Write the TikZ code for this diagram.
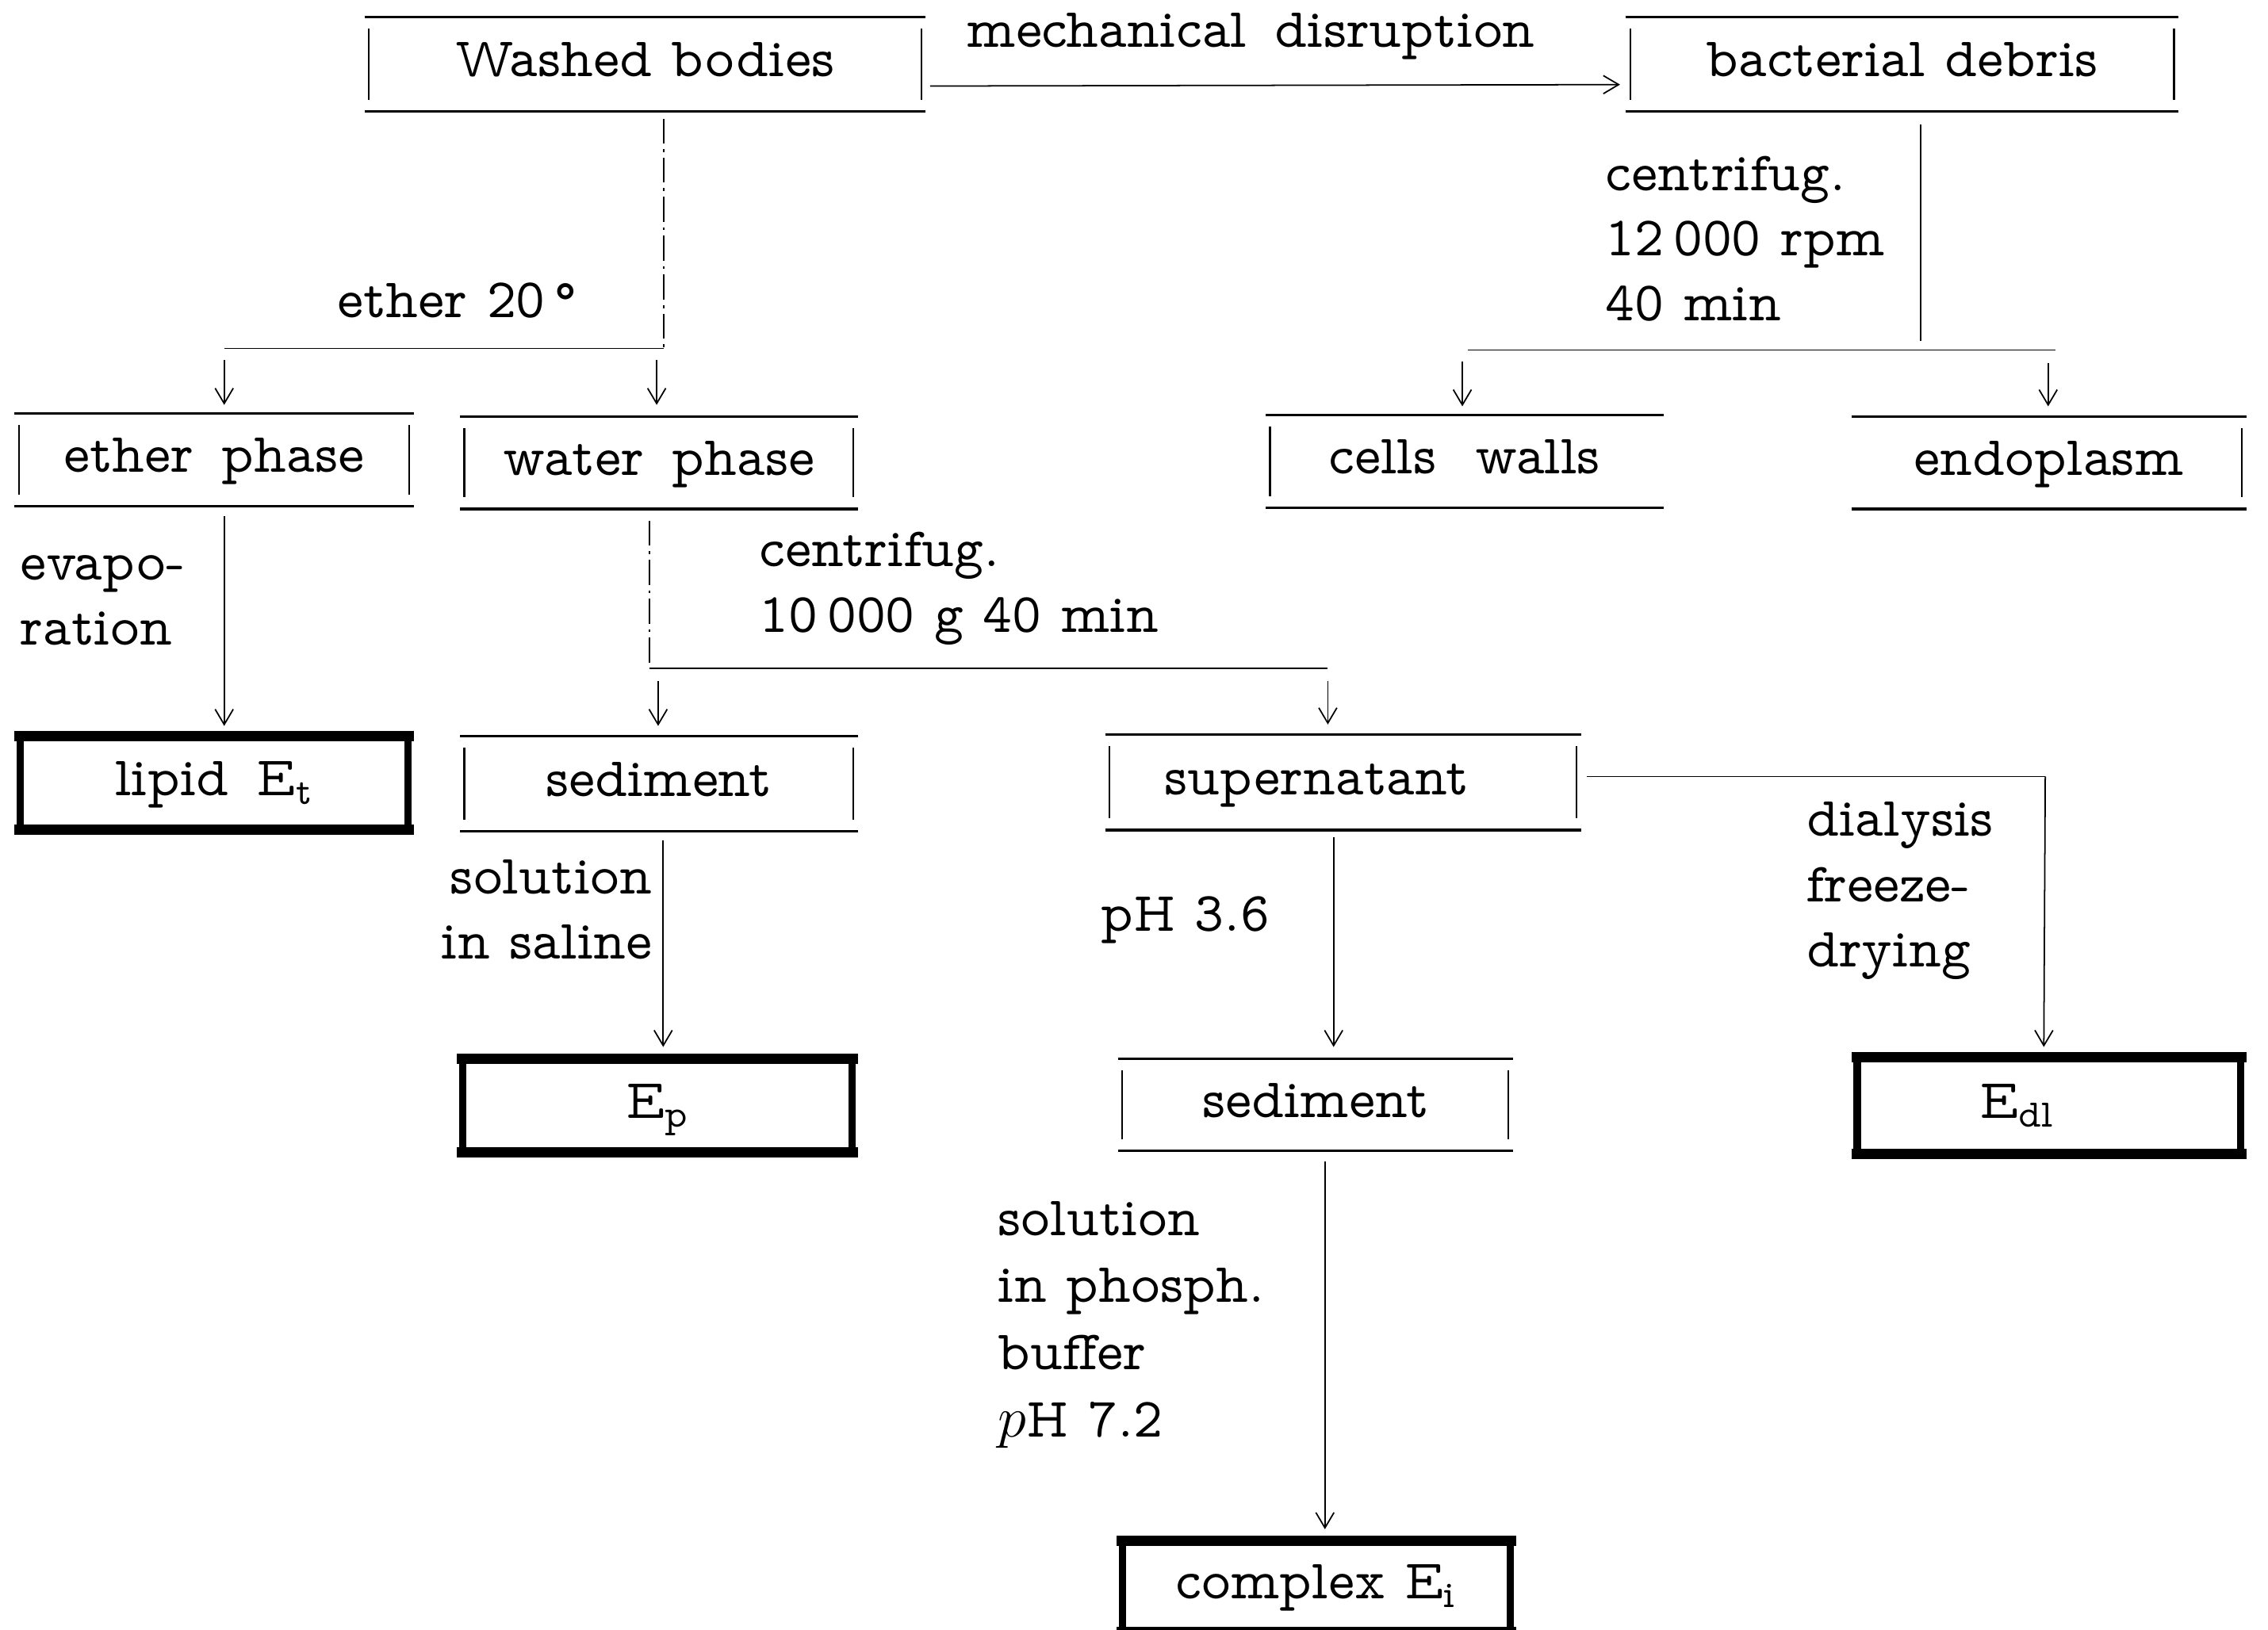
\documentclass[tikz,border=0pt]{standalone}
\usepackage{fontspec}
\setmainfont{lmmonoprop10-regular.otf}
\usetikzlibrary{arrows.meta,calc}
\newcommand\nbox[1]{\draw[hline] (#1.north west) -- (#1.north east) (#1.south west) -- (#1.south east);}
\newcommand\nlbar[1]{\draw[vbar] ([shift={(3,8)}]#1.north west) -- ([shift={(3,-8)}]#1.south west);}
\newcommand\nrbar[1]{\draw[vbar] ([shift={(-3,8)}]#1.north east) -- ([shift={(-3,-8)}]#1.south east);}
\newcommand\bbox[1]{\draw[bhline] (#1.north west) -- (#1.north east) (#1.south west) -- (#1.south east);
  \draw[bvbar] ([shift={(4,2)}]#1.north west) -- ([shift={(4,-2)}]#1.south west)
               ([shift={(-4,2)}]#1.north east) -- ([shift={(-4,-2)}]#1.south east);}
\newcommand\wsp{\ \hspace{3pt}}
\begin{document}
\begin{tikzpicture}[x=0.01824cm,y=-0.01824cm,
  every node/.style={font=\fontsize{20}{23.35}\selectfont, inner sep=0pt, outer sep=0pt},
  bx/.style 2 args={inner sep=0pt, minimum width=#1*0.01824cm, minimum height=#2*0.01824cm,
     text height=0.9em, text depth=0pt},
  lbl/.style={align=left, anchor=west},
  hline/.style={line width=0.9pt},
  vbar/.style={line width=0.6pt},
  bhline/.style={line width=3.7pt},
  bvbar/.style={line width=2.7pt},
  conn/.style={line width=0.5pt},
  dconn/.style={line width=0.45pt, dash pattern=on 9pt off 2pt on 1pt off 2pt},
  arr/.style={conn, -{Straight Barb[length=5.5pt,width=6.5pt]}}]
\useasboundingbox (0,0) rectangle (1568,1127);

% boxes
\node[bx={388}{65}] (washed) at (446,44.5) {Washed bodies};
\node[bx={382}{65}] (debris) at (1315,44.5) {bacterial debris};
\node[bx={276}{64}] (ether) at (148,318) {ether\wsp phase};
\node[bx={275}{64}] (water) at (455.5,320) {water\wsp phase};
\node[bx={275}{64}] (cells) at (1012.5,319) {cells\ \ walls};
\node[bx={273}{64}] (endo) at (1416.5,320) {endoplasm};
\node[bx={276}{65}] (lipid) at (148,541.5) {lipid\wsp E\textsubscript{t}};
\node[bx={275}{66}] (sed1) at (455.5,542) {sediment};
\node[bx={329}{66}] (super) at (928.5,541) {supernatant\rule{0.66cm}{0pt}};
\node[bx={277}{65}] (ep) at (454.5,764.5) {E\textsubscript{p}};
\node[bx={273}{64}] (sed2) at (909.5,764) {sediment};
\node[bx={273}{67}] (edl) at (1416.5,764.5) {E\textsubscript{dl}\rule{0.8cm}{0pt}};
\node[bx={276}{63}] (cplx) at (910,1097) {complex E\textsubscript{i}};

\nbox{washed}\nlbar{washed}\nrbar{washed}
\nbox{debris}\nlbar{debris}\nrbar{debris}
\nbox{ether}\nlbar{ether}\nrbar{ether}
\nbox{water}\nlbar{water}\nrbar{water}
\nbox{cells}\nlbar{cells}
\nbox{endo}\nrbar{endo}
\nbox{sed1}\nlbar{sed1}\nrbar{sed1}
\nbox{super}\nlbar{super}\nrbar{super}
\nbox{sed2}\nlbar{sed2}\nrbar{sed2}
\bbox{lipid}\bbox{ep}\bbox{edl}\bbox{cplx}

% labels
\node (mech) at (865,25) {mechanical\wsp disruption};
\node (eth20) at (316,208) {ether 20\,\textdegree};
\node[lbl] (cent1) at (1110,165) {centrifug.\\12\,000 rpm\\40 min};
\node[lbl] (evap) at (14,415) {evapo-\\ration};
\node[lbl] (cent2) at (525,407) {centrifug.\\10\,000 g 40 min};
\node[align=right, anchor=east] (sal) at (451,629) {solution\\in saline};
\node[lbl] (ph36) at (761,636) {pH 3.6};
\node[lbl] (dial) at (1249,616) {dialysis\\freeze-\\drying};
\node[lbl, font=\fontsize{20}{24.1}\selectfont] (phos) at (690,916) {solution\\in phosph.\\buffer\\$p$H 7.2};

% junction coordinates
\coordinate (j1) at (459,241);
\coordinate (j1l) at (155,241);
\coordinate (j2) at (449,462);
\coordinate (j2r) at (918,462);
\coordinate (j3) at (1328,242);
\coordinate (j3l) at (1015,242);
\coordinate (j3r) at (1421,242);
\coordinate (j4) at (1414,537);

% connectors
\draw[arr] ([shift={(3,15)}]washed.east) -- ([shift={(-4,14)}]debris.west);
\draw[dconn] ($(washed.south -| j1)+(0,5)$) -- (j1);
\draw[conn] (j1) -- (j1l);
\draw[arr] ($(j1l)+(0,8)$) -- ($(ether.north -| j1l)+(0,-6)$);
\draw[arr] ($(j1)+(-5,8)$) -- ($(water.north -| j1)+(-5,-8)$);
\draw[arr] ($(ether.south -| j1l)+(0,7)$) -- ($(lipid.north -| j1l)+(0,-7)$);
\draw[dconn] ($(water.south -| j2)+(0,8)$) -- (j2);
\draw[conn] (j2) -- (j2r);
\draw[arr] ($(j2)+(6,9)$) -- ($(sed1.north -| j2)+(6,-7)$);
\draw[arr] ($(j2r)+(0,9)$) -- ($(super.north -| j2r)+(0,-7)$);
\draw[arr] ($(sed1.south)+(3,6)$) -- ($(ep.north)+(4,-8)$);
\draw[arr] ($(super.south -| 922,0)+(0,5)$) -- ($(sed2.north -| 922,0)+(0,-8)$);
\draw[conn] ($(super.east)+(4,-4)$) -- (j4);
\draw[arr] (j4) -- ($(edl.north -| j4)+(-1,-7)$);
\draw[arr] ($(sed2.south -| 916,0)+(0,7)$) -- ($(cplx.north -| 916,0)+(0,-8)$);
\draw[conn] ($(debris.south -| j3)+(0,9)$) -- ($(j3)+(0,-6)$);
\draw[conn] (j3l) -- (j3r);
\draw[arr] ($(j3l)+(-4,8)$) -- ($(cells.north -| j3l)+(-4,-6)$);
\draw[arr] ($(j3r)+(-5,9)$) -- ($(endo.north -| j3r)+(-5,-7)$);
\end{tikzpicture}
\end{document}
